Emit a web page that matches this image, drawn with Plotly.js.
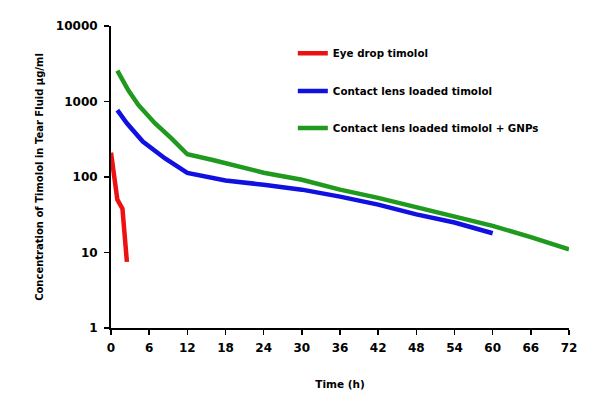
<!DOCTYPE html>
<html>
<head>
<meta charset="utf-8">
<script src="https://cdn.plot.ly/plotly-3.0.1.min.js"></script>
<style>html,body{margin:0;padding:0;background:#fff;}#chart{width:607px;height:394px;}</style>
</head>
<body>
<div id="chart"></div>
<script>
// Data
const eyeDropTime = [0, 1, 1.8, 2.5];
const eyeDropConc = [210, 50, 38, 7.5];

const lensTime = [1, 2.5, 5, 8.5, 12, 18, 24, 30, 36, 42, 48, 54, 60];
const lensConc = [770, 515, 295, 176, 113, 90, 79, 68, 55, 43, 32, 25, 18];

const gnpTime = [1, 2.7, 4.3, 6.9, 9.5, 12, 16, 24, 30, 36, 42, 48, 54, 60, 66, 72];
const gnpConc = [2570, 1420, 900, 515, 325, 200, 168, 114, 92, 68, 53, 40, 30, 22.5, 16, 11];

const seriesNames = ["Eye drop timolol", "Contact lens loaded timolol", "Contact lens loaded timolol + GNPs"];
const xTicks = [0, 6, 12, 18, 24, 30, 36, 42, 48, 54, 60, 66, 72];
const yTicks = [1, 10, 100, 1000, 10000];

const fontFam = "DejaVu Sans, sans-serif";
const traces = [
  {x: eyeDropTime, y: eyeDropConc, name: seriesNames[0], mode: "lines", line: {color: "#ee1111", width: 4.5}, legend: "legend"},
  {x: lensTime, y: lensConc, name: seriesNames[1], mode: "lines", line: {color: "#1010e0", width: 4.5}, legend: "legend2"},
  {x: gnpTime, y: gnpConc, name: seriesNames[2], mode: "lines", line: {color: "#1f9a1f", width: 4.5}, legend: "legend3"}
];

const legendBase = {xref: "paper", yref: "paper", x: 0.397, xanchor: "left", yanchor: "middle", bgcolor: "rgba(0,0,0,0)",
  font: {family: fontFam, size: 10.3, color: "#000", weight: "bold"}};

const layout = {
  width: 607, height: 394,
  margin: {l: 111, r: 38, t: 26, b: 66},
  paper_bgcolor: "#fff", plot_bgcolor: "#fff",
  showlegend: true,
  legend: Object.assign({}, legendBase, {y: 0.91}),
  legend2: Object.assign({}, legendBase, {y: 0.785}),
  legend3: Object.assign({}, legendBase, {y: 0.662}),
  xaxis: {
    range: [0, 72], tickvals: xTicks, ticktext: xTicks.map(String),
    showgrid: false, zeroline: false, showline: true, linecolor: "#000", linewidth: 2,
    ticks: "outside", ticklen: 5, tickwidth: 1.5, tickcolor: "#000", ticklabelstandoff: 3,
    tickfont: {family: fontFam, size: 12, color: "#000", weight: "bold"},
    title: {text: "Time (h)", font: {family: fontFam, size: 10.5, color: "#000", weight: "bold"}, standoff: 26}
  },
  yaxis: {
    type: "log", range: [0, 4], tickvals: yTicks, ticktext: yTicks.map(String),
    showgrid: false, zeroline: false, showline: true, linecolor: "#000", linewidth: 2,
    ticks: "outside", ticklen: 5, tickwidth: 1.5, tickcolor: "#000", ticklabelstandoff: 4,
    tickfont: {family: fontFam, size: 12, color: "#000", weight: "bold"},
    title: {text: "Concentration of Timolol in Tear Fluid µg/ml", font: {family: fontFam, size: 10, color: "#000", weight: "bold"}, standoff: 10}
  },
  hovermode: false
};

Plotly.newPlot("chart", traces, layout, {displayModeBar: false, staticPlot: true});
</script>
</body>
</html>
